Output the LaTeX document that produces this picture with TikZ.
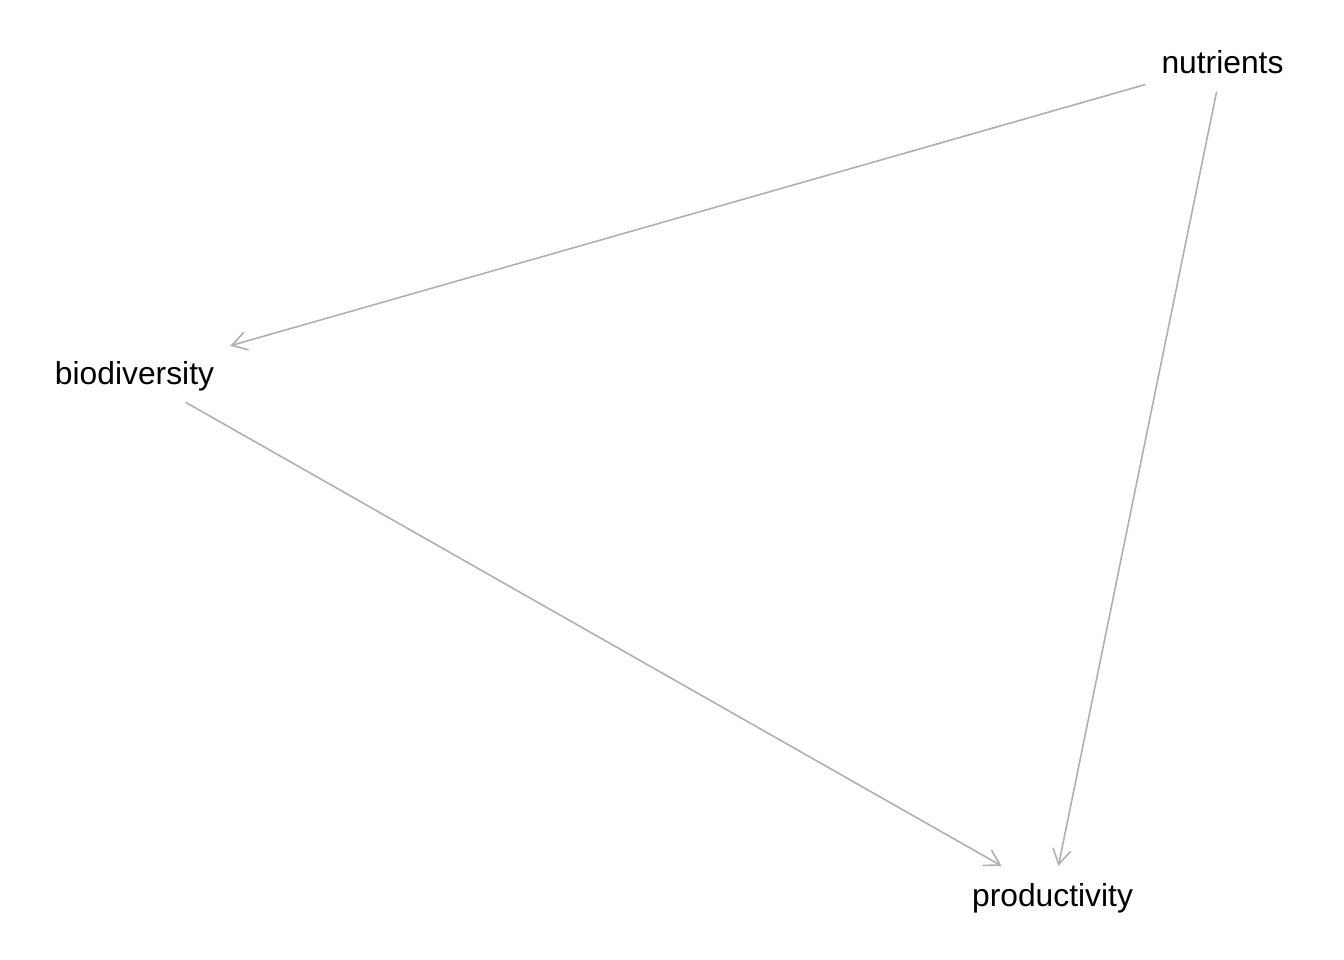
\documentclass[tikz,border=0pt]{standalone}
\usepackage{fontspec}
\setmainfont{Liberation Sans}
\usetikzlibrary{arrows.meta}
\definecolor{edgegray}{RGB}{176,176,176}
\tikzset{
  var/.style={font=\fontsize{31.8}{38}\selectfont, text height=23pt, text depth=0pt,
    inner xsep=16pt, inner ysep=0pt, minimum height=58pt},
  edge/.style={draw=edgegray, line width=1.6pt,
    -{Straight Barb[length=15pt, width=18pt, line width=1.6pt]}}
}
\begin{document}
\begin{tikzpicture}[x=1pt, y=-1pt]
\useasboundingbox[fill=white] (0,0) rectangle (1344,960);
\node[var] (nut) at (1222.5,62.5) {nutrients};
\node[var] (bio) at (134.5,373) {biodiversity};
\node[var] (pro) at (1052.5,895) {productivity};
\draw[edge] (nut) -- (bio);
\draw[edge] (nut) -- (pro);
\draw[edge] (bio) -- (pro);
\end{tikzpicture}
\end{document}
